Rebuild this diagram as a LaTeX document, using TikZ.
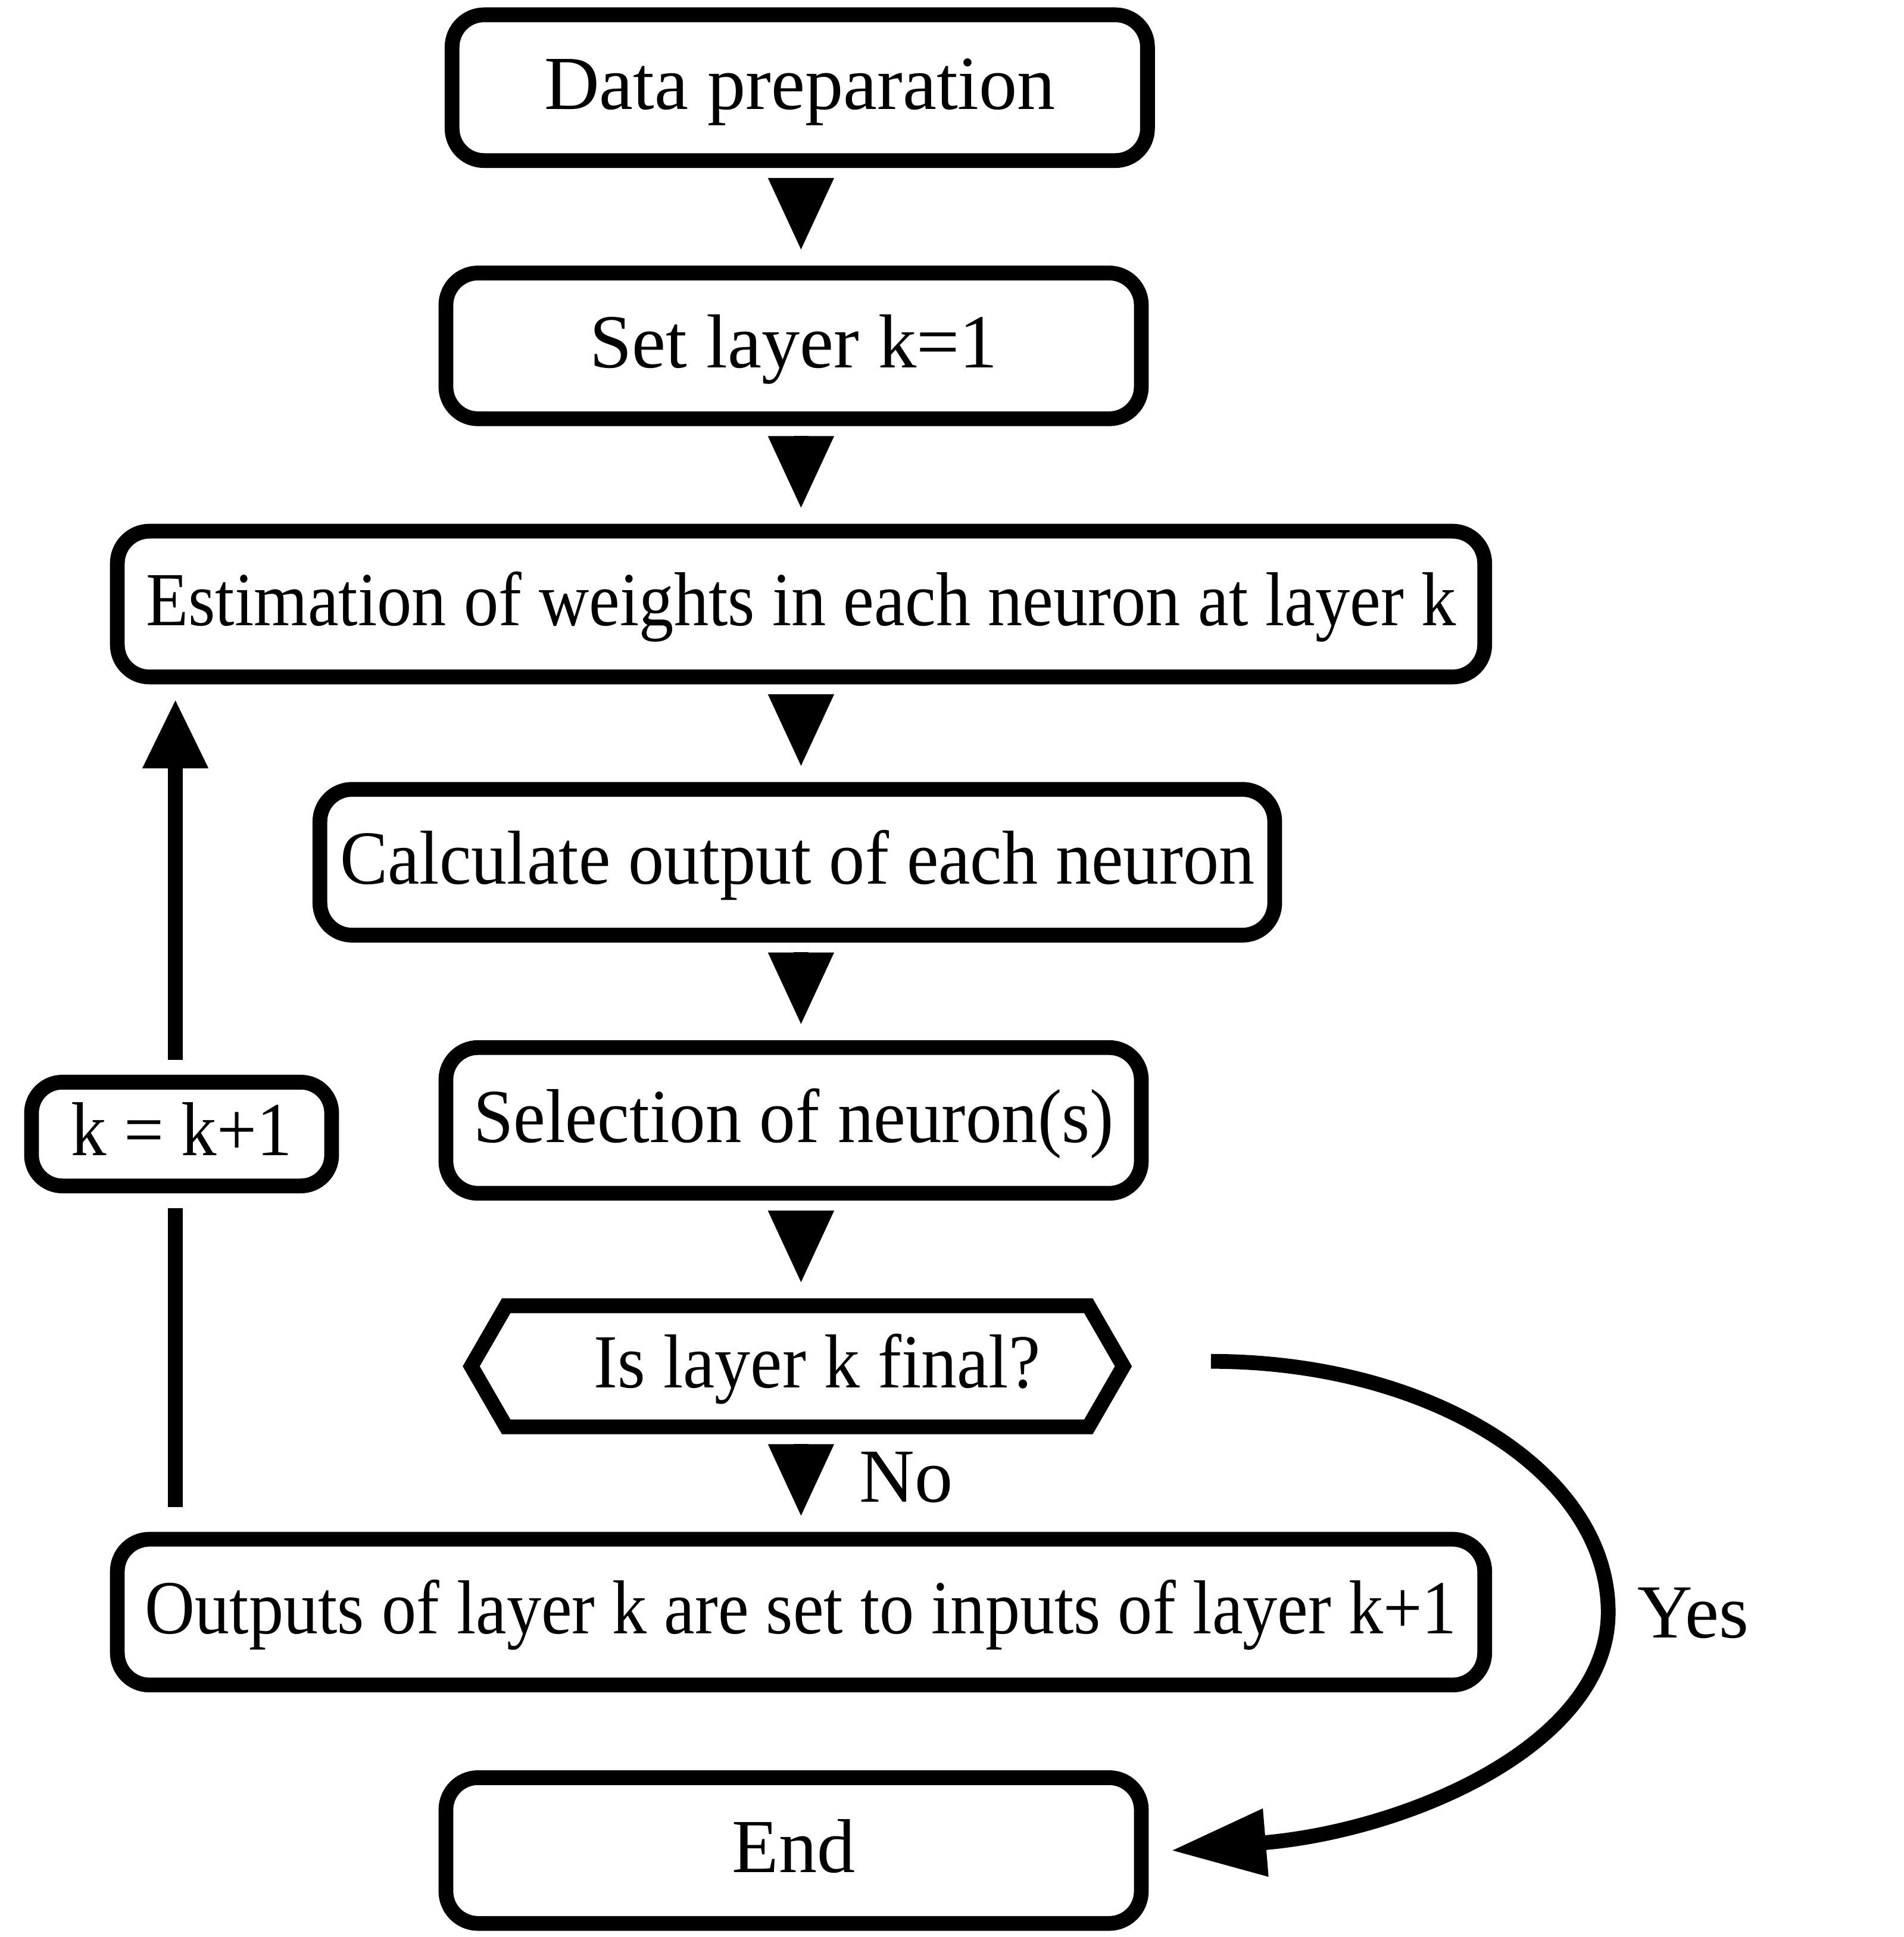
\documentclass[tikz,border=0pt]{standalone}
\usepackage{fontspec}
\usepackage{graphicx}
\setmainfont{Liberation Serif}
\usetikzlibrary{arrows.meta,shapes.symbols}
\newcommand{\tightText}[2]{\scalebox{#1}[1]{#2}}

\begin{document}
\begin{tikzpicture}
  [line width=3.4pt,
   every node/.style={font=\fontsize{17.6}{21}\selectfont},
   box/.style={draw,rounded corners=0.26cm,minimum height=1.18cm,inner xsep=0.1cm,
     text height=0.47cm,text depth=0.12cm},
   test/.style={draw,signal,signal to=west and east,signal pointer angle=120,
     minimum width=5.28cm,minimum height=0.98cm,text height=0.47cm,text depth=0.12cm},
   flow/.style={-{Triangle[length=0.59cm,width=0.50cm]},shorten <=0.08cm,shorten >=0.12cm},
   loopline/.style={shorten <=0.20cm,shorten >=0.12cm},
   back/.style={-{Triangle[length=0.56cm,width=0.50cm]},shorten <=0.12cm,shorten >=0.12cm},
   yes/.style={-{Triangle[length=0.77cm,width=0.52cm]}},
   lbl/.style={anchor=base west,inner sep=0pt}]
  \useasboundingbox (0,0) rectangle (15.41,-15.68);
  \node[box,minimum width=5.63cm] (prep) at (6.475,-0.71) {Data preparation};
  \node[box,minimum width=5.63cm] (setk) at (6.425,-2.80) {Set layer k=1};
  \node[box,minimum width=11.07cm] (est) at (6.485,-4.89) {\tightText{0.908}{Estimation of weights in each neuron at layer k}};
  \node[box,minimum width=7.73cm] (calc) at (6.455,-6.98) {\tightText{0.937}{Calculate output of each neuron}};
  \node[box,minimum width=5.63cm] (sel) at (6.425,-9.07) {\tightText{0.943}{Selection of neuron(s)}};
  \node[test] (final) at (6.455,-11.06) {\hspace*{0.32cm}\tightText{0.935}{Is layer k final?}};
  \node[box,minimum width=11.07cm] (outp) at (6.485,-13.05) {\tightText{0.906}{Outputs of layer k are set to inputs of layer k+1}};
  \node[box,minimum width=5.63cm] (stop) at (6.425,-14.98) {End};
  \node[box,minimum width=2.43cm,minimum height=0.84cm,rounded corners=0.25cm] (kinc) at (1.47,-9.18) {\tightText{0.926}{k = k+1}};
  \node[lbl] (no) at (6.90,-12.16) {No};
  \node[lbl] (yeslbl) at (13.20,-13.26) {Yes};
  \coordinate (bend) at (13.02,-13.05);

  \foreach \from/\to in {prep/setk,setk/est,est/calc,calc/sel,sel/final,final/outp}
    \draw[flow] (\from.south -| est) -- (\to.north -| est);

  % loop back to the next layer
  \draw[loopline] ([xshift=-0.05cm]kinc.south |- outp.north) -- ([xshift=-0.05cm]kinc.south);
  \draw[back] ([xshift=-0.05cm]kinc.north) -- ([xshift=-0.05cm]kinc.north |- est.south);

  % final layer reached
  \draw[yes] ([xshift=0.64cm,yshift=0.04cm]final.east) .. controls +(1.78,0) and +(0,1.13) .. (bend)
    .. controls +(0,-1.08) and +(1.91,0.16) .. ([xshift=0.18cm]stop.east);
\end{tikzpicture}
\end{document}
